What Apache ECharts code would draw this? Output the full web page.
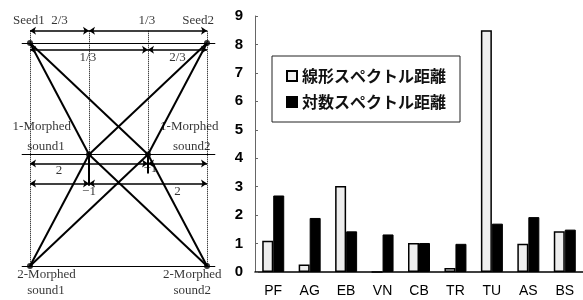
<!DOCTYPE html>
<html>
<head>
<meta charset="UTF-8">
<title>線形・対数スペクトル距離</title>
<script src="https://cdn.jsdelivr.net/npm/echarts@6/dist/echarts.min.js"></script>
<style>
  html, body { margin: 0; padding: 0; background: #fff; }
  #chart { width: 583px; height: 300px; }
</style>
</head>
<body>
<div id="chart"></div>
<script>
// bar chart data
var categories = ['PF', 'AG', 'EB', 'VN', 'CB', 'TR', 'TU', 'AS', 'BS'];
var linearDist = [1.1, 0.26, 3.02, 0, 1.02, 0.14, 8.5, 0.99, 1.43];
var logDist = [2.69, 1.9, 1.43, 1.32, 1.02, 0.99, 1.7, 1.93, 1.49];
var seriesNames = ['線形スペクトル距離', '対数スペクトル距離'];

// morphing diagram, x in thirds between seeds, y in morph levels
var nodes = [[0, 0], [3, 0], [1, 1], [2, 1], [0, 2], [3, 2]];
var edges = [
  [[0, 0], [1, 1]], [[0, 0], [2, 1]], [[3, 0], [1, 1]], [[3, 0], [2, 1]],
  [[1, 1], [0, 2]], [[1, 1], [3, 2]], [[2, 1], [0, 2]], [[2, 1], [3, 2]]
];
var levelLines = [
  [[-0.14, 0], [3.14, 0]], [[-0.14, 1], [3.14, 1]], [[-0.14, 2], [3.14, 2]]
];
var guideLines = [
  [[0, -0.11], [0, 2]], [[3, -0.11], [3, 2]],
  [[1, -0.11], [1, 1]], [[2, -0.11], [2, 1]]
];
var ticks = [[[1, 1], [1, 1.28]], [[2, 1], [2, 1.17]]];
var arrows = [
  [[0, -0.11], [1, -0.11]], [[1, -0.11], [3, -0.11]],
  [[0, 0.06], [2, 0.06]], [[2, 0.06], [3, 0.06]],
  [[0, 1.08], [2, 1.08]], [[2, 1.08], [3, 1.08]],
  [[0, 1.26], [1, 1.26]], [[1, 1.26], [3, 1.26]]
];
var labels = [
  ['Seed1', -0.02, -0.2], ['2/3', 0.5, -0.2], ['1/3', 1.98, -0.2], ['Seed2', 2.85, -0.2],
  ['1/3', 0.98, 0.13], ['2/3', 2.5, 0.13],
  ['1-Morphed', 0.2, 0.75], ['sound1', 0.27, 0.93],
  ['1-Morphed', 2.7, 0.75], ['sound2', 2.74, 0.93],
  ['2', 0.49, 1.14], ['−1', 2.04, 1.13],
  ['−1', 1.0, 1.33], ['2', 2.5, 1.33],
  ['2-Morphed', 0.28, 2.08], ['sound1', 0.27, 2.22],
  ['2-Morphed', 2.75, 2.08], ['sound2', 2.75, 2.22]
];

function segs(list) {
  return list.map(function (s) { return { coords: s }; });
}

var chart = echarts.init(document.getElementById('chart'));
var serif = '"Liberation Serif", "DejaVu Serif", serif';
var sans = '"Liberation Sans", Arial, sans-serif';

var option = {
  animation: false,
  backgroundColor: '#fff',
  grid: [
    { left: 255, right: -3, top: 16, bottom: 28 },
    // diagram: x -0.5..3.5 (59px per third), y -0.3..2.3 (111.5px per level)
    { left: 0.5, width: 236, top: 9.55, height: 289.9 }
  ],
  legend: {
    data: seriesNames,
    orient: 'vertical',
    left: 272,
    top: 56,
    padding: [12, 14, 12, 14],
    itemGap: 10,
    itemWidth: 10,
    itemHeight: 10,
    borderColor: '#222',
    borderWidth: 1,
    backgroundColor: '#fff',
    icon: 'rect',
    textStyle: {
      fontFamily: '"Noto Sans CJK JP", sans-serif',
      fontSize: 16,
      fontWeight: 'bold',
      color: '#111'
    }
  },
  xAxis: [
    {
      type: 'category',
      gridIndex: 0,
      data: categories,
      axisLine: { lineStyle: { color: '#000', width: 1.5 } },
      axisTick: { show: false },
      axisLabel: { color: '#000', fontFamily: sans, fontSize: 14, margin: 12 }
    },
    {
      type: 'value', gridIndex: 1, min: -0.5, max: 3.5, show: false
    }
  ],
  yAxis: [
    {
      type: 'value',
      gridIndex: 0,
      min: 0,
      max: 9,
      interval: 1,
      splitLine: { show: false },
      axisLine: { show: true, lineStyle: { color: '#666', width: 1 } },
      axisTick: { show: true, inside: true, length: 3, lineStyle: { color: '#666' } },
      axisLabel: { color: '#000', fontFamily: sans, fontSize: 15, fontWeight: 'bold', margin: 12 }
    },
    {
      type: 'value', gridIndex: 1, min: -0.3, max: 2.3, inverse: true, show: false
    }
  ],
  series: [
    {
      name: seriesNames[0],
      type: 'bar',
      xAxisIndex: 0, yAxisIndex: 0,
      data: linearDist,
      barWidth: 11,
      barGap: '0%',
      itemStyle: { color: '#eeeeee', borderColor: '#000', borderWidth: 1.5 }
    },
    {
      name: seriesNames[1],
      type: 'bar',
      xAxisIndex: 0, yAxisIndex: 0,
      data: logDist,
      barWidth: 11,
      itemStyle: { color: '#000', borderColor: '#000', borderWidth: 1 }
    },
    {
      type: 'lines', coordinateSystem: 'cartesian2d', xAxisIndex: 1, yAxisIndex: 1,
      clip: false, silent: true,
      data: segs(guideLines),
      lineStyle: { color: '#000', width: 1, type: 'dotted', opacity: 1 }
    },
    {
      type: 'lines', coordinateSystem: 'cartesian2d', xAxisIndex: 1, yAxisIndex: 1,
      clip: false, silent: true,
      data: segs(levelLines),
      lineStyle: { color: '#000', width: 1, opacity: 1 }
    },
    {
      type: 'lines', coordinateSystem: 'cartesian2d', xAxisIndex: 1, yAxisIndex: 1,
      clip: false, silent: true,
      data: segs(edges.concat(ticks)),
      lineStyle: { color: '#000', width: 2, opacity: 1 }
    },
    {
      type: 'lines', coordinateSystem: 'cartesian2d', xAxisIndex: 1, yAxisIndex: 1,
      clip: false, silent: true,
      data: segs(arrows),
      symbol: ['arrow', 'arrow'],
      symbolSize: 6,
      lineStyle: { color: '#000', width: 1.5, opacity: 1 }
    },
    {
      type: 'scatter', xAxisIndex: 1, yAxisIndex: 1, silent: true,
      data: nodes,
      symbolSize: 6,
      itemStyle: { color: '#000' }
    },
    {
      type: 'scatter', xAxisIndex: 1, yAxisIndex: 1, silent: true,
      symbolSize: 0,
      data: labels.map(function (l) { return { name: l[0], value: [l[1], l[2]] }; }),
      label: {
        show: true,
        position: 'inside',
        formatter: '{b}',
        color: '#000',
        fontFamily: serif,
        fontSize: 13
      }
    }
  ]
};
chart.setOption(option);
</script>
</body>
</html>
